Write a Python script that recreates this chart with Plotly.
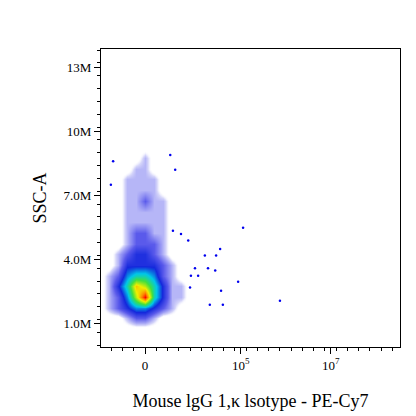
import plotly.graph_objects as go

# display coordinate for PE-Cy7 (biexponential-like display units)
x_centers = [-1.0, -0.8, -0.6, -0.4, -0.2, 0.0, 0.2, 0.4, 0.6, 0.8, 1.0]
y_centers = [0.75, 1.25, 1.75, 2.25, 2.75, 3.25, 3.75, 4.25, 4.75, 5.25, 5.75,
             6.25, 6.75, 7.25, 7.75, 8.25, 8.75, 9.25]  # millions
density = [
    [0, 0, 0, 0, 0, 0, 0, 0, 0, 0, 0],
    [0, 0, 0, 1, 2, 2, 1, 0, 0, 0, 0],
    [0, 1, 2, 3, 4, 4, 3, 2, 1, 0, 0],
    [0, 1, 2, 4, 7, 10, 5, 3, 1, 1, 0],
    [0, 1, 3, 5, 8, 7, 5, 3, 1, 1, 0],
    [0, 1, 2, 4, 5, 5, 4, 2, 1, 0, 0],
    [0, 0, 1, 3, 3, 3, 3, 2, 1, 0, 0],
    [0, 0, 1, 2, 3, 3, 2, 1, 0, 0, 0],
    [0, 0, 0, 1, 2, 2, 2, 1, 0, 0, 0],
    [0, 0, 0, 1, 2, 2, 1, 1, 0, 0, 0],
    [0, 0, 0, 1, 1, 1, 1, 1, 0, 0, 0],
    [0, 0, 0, 1, 1, 1, 1, 1, 0, 0, 0],
    [0, 0, 0, 1, 1, 2, 1, 1, 0, 0, 0],
    [0, 0, 0, 1, 1, 1, 1, 0, 0, 0, 0],
    [0, 0, 0, 1, 1, 1, 1, 0, 0, 0, 0],
    [0, 0, 0, 0, 1, 1, 0, 0, 0, 0, 0],
    [0, 0, 0, 0, 0, 1, 0, 0, 0, 0, 0],
    [0, 0, 0, 0, 0, 0, 0, 0, 0, 0, 0],
]
out_x = [2.18, 1.67, 2.07, 3.0, 1.44, 1.73, 1.69, 1.11, 1.02, 1.18, 1.0, 0.8,
         0.96, 0.62, 1.33, 1.58, 1.4, 1.56, 0.56, 0.67, -0.71, -0.76]
out_y = [5.5, 4.5, 2.97, 2.08, 1.9, 1.9, 2.55, 3.6, 3.25, 3.25, 2.7, 5.2,
         4.9, 5.35, 4.2, 4.2, 3.6, 3.5, 8.9, 8.2, 8.6, 7.5]
x_tick_vals = [0.0, 2.13, 4.13]
x_tick_text = ["0", "10<sup>5</sup>", "10<sup>7</sup>"]
y_tick_vals = [1, 4, 7, 10, 13]
y_tick_text = ["1.0M", "4.0M", "7.0M", "10M", "13M"]

cscale = [[0, "rgba(255,255,255,0)"], [0.03, "rgba(255,255,255,0)"],
          [0.07, "rgb(215,215,250)"], [0.12, "rgb(160,160,245)"],
          [0.2, "rgb(90,90,235)"], [0.32, "rgb(20,40,220)"],
          [0.45, "#00c8e8"], [0.6, "#40e040"], [0.75, "#f0f000"],
          [0.88, "#ff8000"], [1, "#ff0000"]]

fig = go.Figure()
fig.add_trace(go.Heatmap(x=x_centers, y=y_centers, z=density, colorscale=cscale,
                         zmin=0, zmax=10, zsmooth="best", showscale=False))
fig.add_trace(go.Scatter(x=out_x, y=out_y, mode="markers",
                         marker=dict(color="#0000ee", size=2.5), showlegend=False))
font = dict(family="Liberation Serif", color="black")
fig.update_layout(
    width=416, height=416, plot_bgcolor="white", paper_bgcolor="white",
    margin=dict(l=93, r=24, t=41, b=77), font=dict(**font, size=13),
    xaxis=dict(range=[-0.98, 5.67], tickvals=x_tick_vals, ticktext=x_tick_text,
               ticks="outside", ticklen=6, tickcolor="black", showgrid=False,
               zeroline=False, showline=True, linecolor="black", mirror=True,
               minor=dict(dtick=0.25, ticks="outside", ticklen=3, tickcolor="black"),
               title=dict(text="Mouse lgG 1,κ lsotype - PE-Cy7", font=dict(size=18), standoff=22)),
    yaxis=dict(range=[-0.08, 13.85], tickvals=y_tick_vals, ticktext=y_tick_text,
               ticks="outside", ticklen=6, tickcolor="black", showgrid=False,
               zeroline=False, showline=True, linecolor="black", mirror=True,
               minor=dict(dtick=0.6, ticks="outside", ticklen=3, tickcolor="black"),
               title=dict(text="SSC-A", font=dict(size=18), standoff=12)),
)
fig.write_html("out.html")
